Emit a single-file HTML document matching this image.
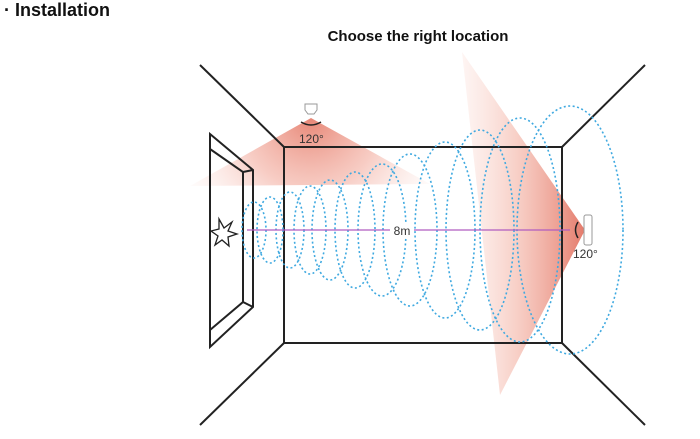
<!DOCTYPE html>
<html><head><style>
body{margin:0;width:700px;height:434px;background:#fff;overflow:hidden;font-family:"Liberation Sans",sans-serif}
</style></head><body>
<svg width="700" height="434" viewBox="0 0 700 434" xmlns="http://www.w3.org/2000/svg">
<defs>
<radialGradient id="gt" cx="311" cy="118" r="140" gradientUnits="userSpaceOnUse">
<stop offset="0" stop-color="#e6806f" stop-opacity="0.95"/><stop offset="0.5" stop-color="#f2aa9c" stop-opacity="0.6"/><stop offset="1" stop-color="#fbe0da" stop-opacity="0.1"/></radialGradient>
<linearGradient id="gr" x1="585" y1="230" x2="430" y2="230" gradientUnits="userSpaceOnUse">
<stop offset="0" stop-color="#e47a6a"/><stop offset="0.45" stop-color="#f4b8ab" stop-opacity="0.65"/><stop offset="1" stop-color="#fde5e0" stop-opacity="0"/></linearGradient>
</defs>
<text x="4" y="16" font-size="18" font-weight="bold" fill="#111">· Installation</text>
<text x="418" y="41" text-anchor="middle" font-size="15" font-weight="bold" fill="#111">Choose the right location</text>
<polygon points="311,118 190,186 430,184" fill="url(#gt)"/>
<polygon points="585,230 462,52 500,395" fill="url(#gr)"/>
<g stroke="#222" stroke-width="2" fill="none">
<rect x="284" y="147" width="278" height="196"/>
<line x1="200" y1="65" x2="284" y2="147"/><line x1="284" y1="343" x2="200" y2="425"/>
<line x1="562" y1="147" x2="645" y2="65"/><line x1="562" y1="343" x2="645" y2="425"/>
<polygon points="210,134 253,170 253,307 210,347"/>
<polyline points="210,149 243,172 243,302 210,330"/>
<line x1="243" y1="172" x2="253" y2="170"/><line x1="243" y1="302" x2="253" y2="307"/>
</g>
<polygon points="219,219 224,228 232,222 228,231 237,234 228,237 229,246 222,240 215,245 218,236 211,231 219,229" fill="#fff" stroke="#222" stroke-width="1.3"/>
<g fill="none" stroke="#3fa9e0" stroke-width="1.6" stroke-dasharray="2 2.5">
<ellipse cx="254" cy="230" rx="12" ry="28"/><ellipse cx="270" cy="230" rx="13" ry="33"/>
<ellipse cx="290" cy="230" rx="14" ry="38"/><ellipse cx="310" cy="230" rx="16" ry="44"/>
<ellipse cx="330" cy="230" rx="18" ry="50"/><ellipse cx="355" cy="230" rx="20" ry="58"/>
<ellipse cx="382" cy="230" rx="24" ry="66"/><ellipse cx="410" cy="230" rx="27" ry="76"/>
<ellipse cx="445" cy="230" rx="30" ry="88"/><ellipse cx="480" cy="230" rx="34" ry="100"/>
<ellipse cx="520" cy="230" rx="40" ry="112"/><ellipse cx="570" cy="230" rx="53" ry="124"/>
</g>
<line x1="247" y1="230" x2="570" y2="230" stroke="#b05cc0" stroke-width="1.3"/>
<rect x="390" y="223" width="24" height="14" fill="#fff"/>
<text x="402" y="235" text-anchor="middle" font-size="12" fill="#333">8m</text>
<rect x="584" y="215" width="8" height="30" rx="2" fill="#fff" stroke="#999"/>
<path d="M578,222 Q573,230 578,238" stroke="#222" stroke-width="1.5" fill="none"/>
<text x="573" y="258" font-size="12" fill="#333">120°</text>
<path d="M305,104 h12 v6 l-3,4 h-6 l-3,-4z" fill="#fff" stroke="#999"/>
<path d="M301,122 Q311,128 321,122" stroke="#222" stroke-width="1.5" fill="none"/>
<text x="299" y="143" font-size="12" fill="#333">120°</text>
</svg>
</body></html>
